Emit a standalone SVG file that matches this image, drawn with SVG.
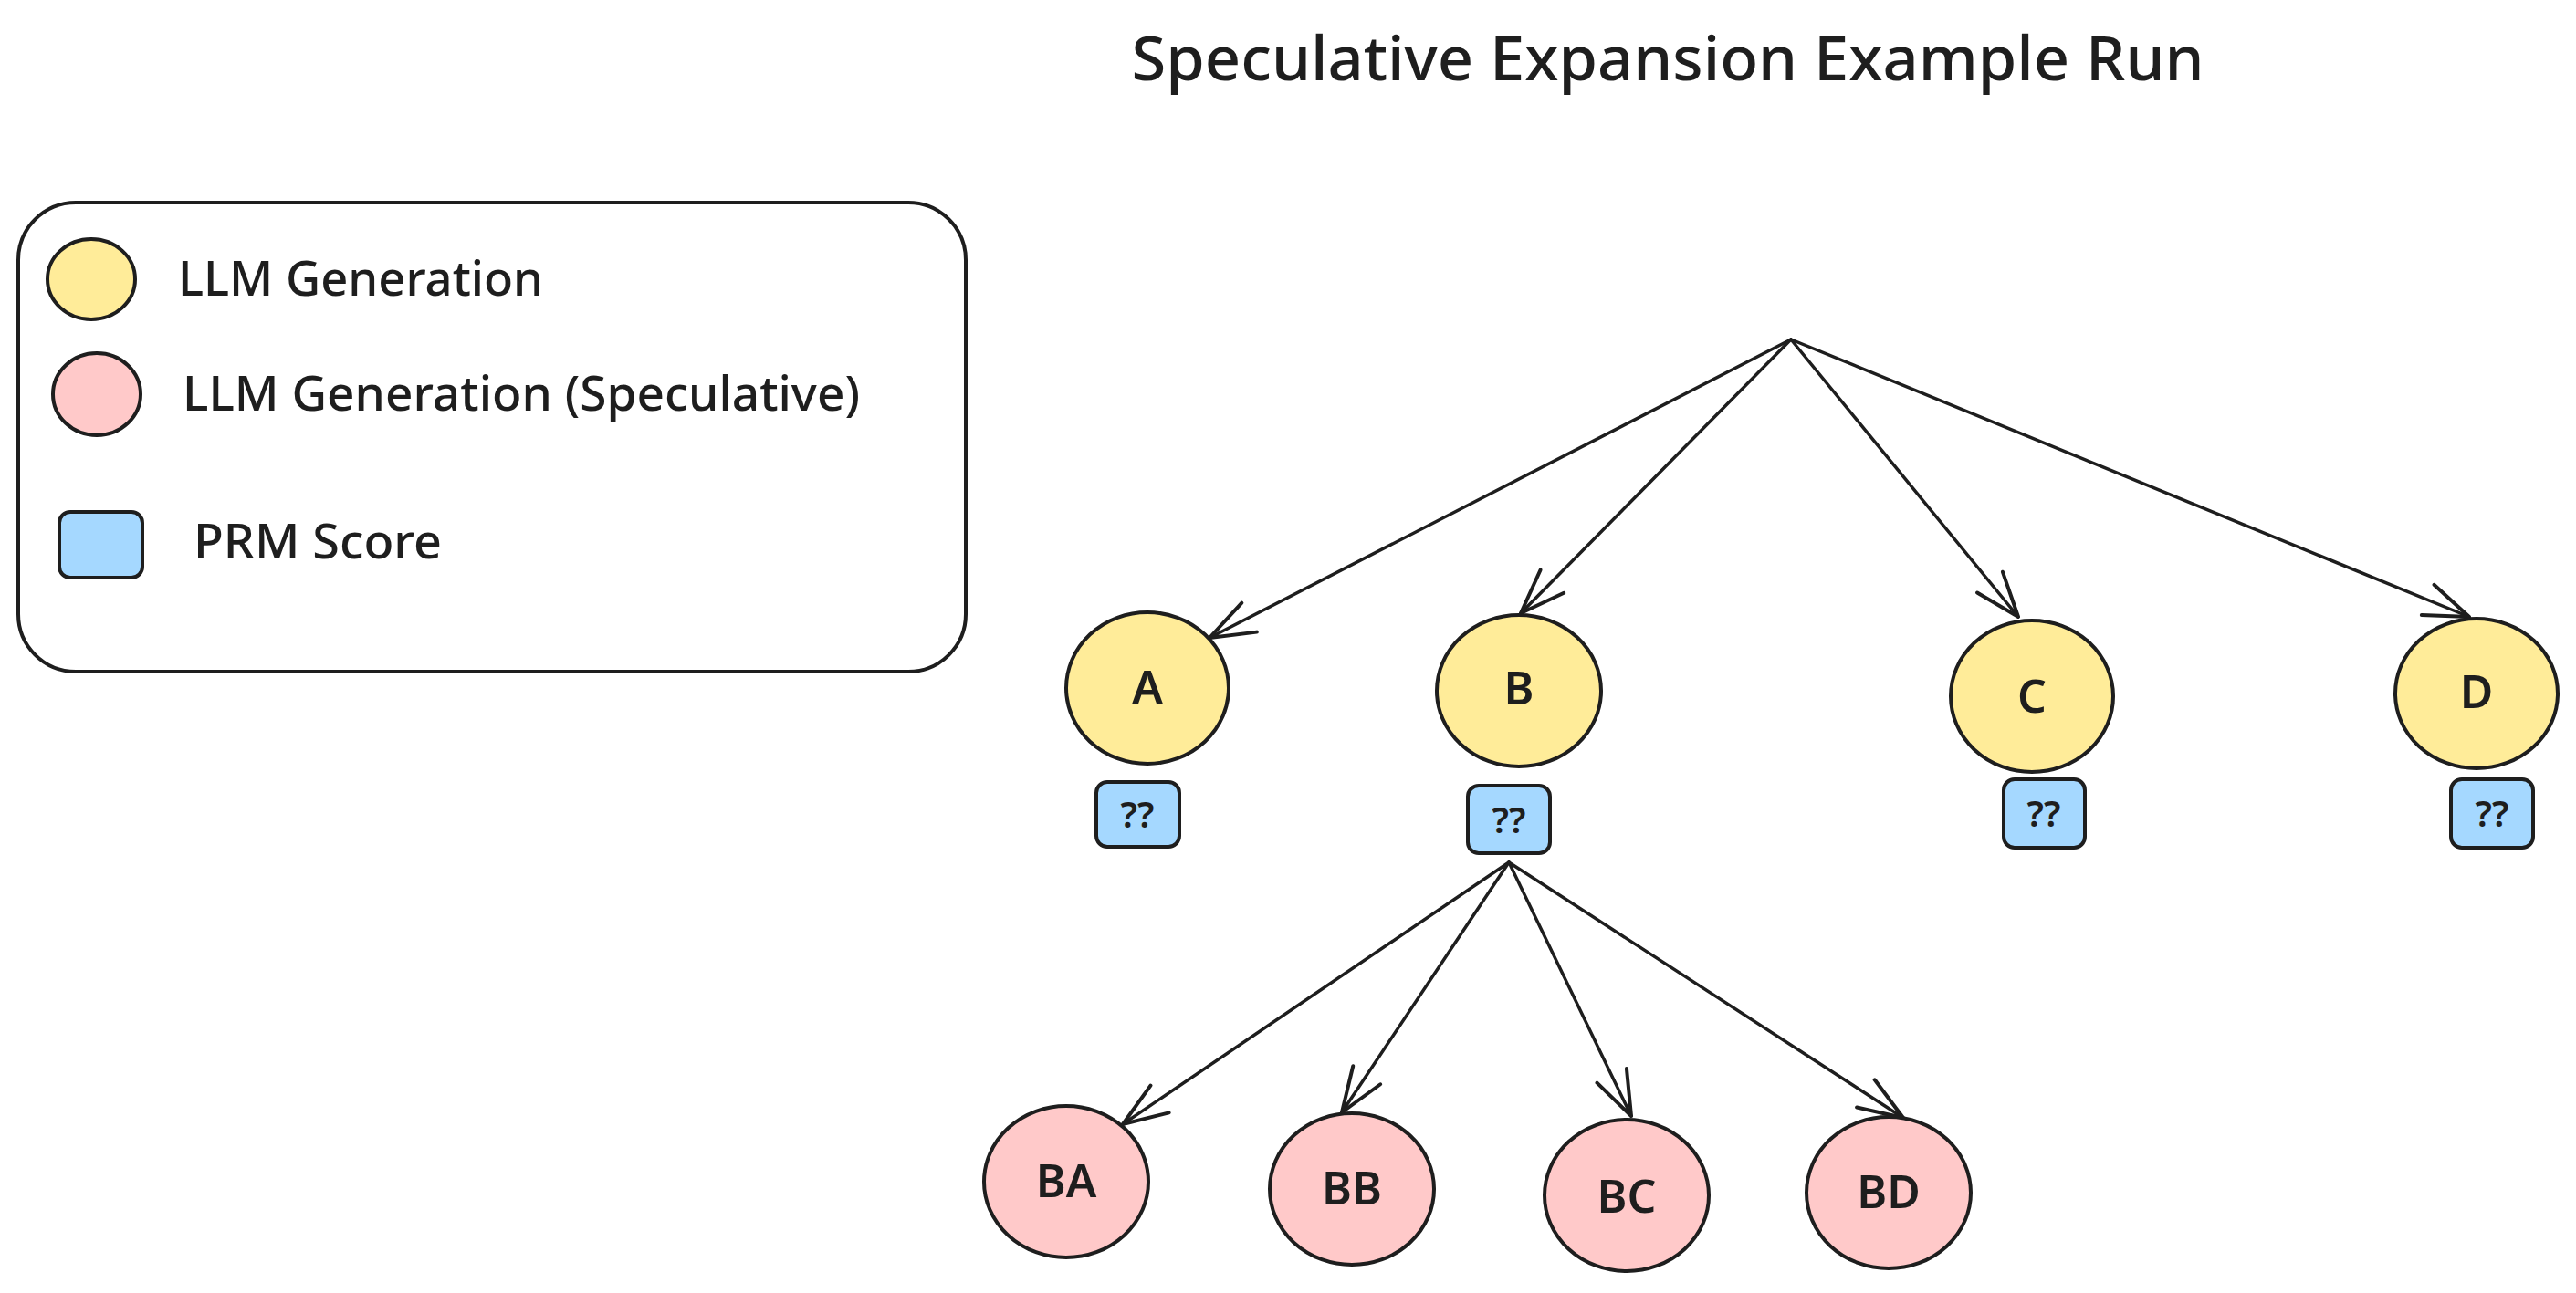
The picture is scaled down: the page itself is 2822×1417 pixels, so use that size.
<svg xmlns="http://www.w3.org/2000/svg" width="2822" height="1417" viewBox="0 0 2822 1417">
<style>
.bg{fill:#ffffff}
.shape{stroke:#1e1e1e;stroke-width:4}
.gen{fill:#ffec99}
.spec{fill:#ffc9c9}
.prm{fill:#a5d8ff}
.legend{fill:#ffffff;stroke:#1e1e1e;stroke-width:4}
.ui{font-family:"Noto Sans","Open Sans",sans-serif;fill:#1e1e1e;font-weight:500}
.lbl{font-family:"Noto Sans","Liberation Sans",sans-serif;fill:#1e1e1e;font-weight:600;text-anchor:middle;dominant-baseline:central}
.edge{stroke:#1e1e1e;stroke-width:3.5;fill:none;stroke-linecap:round;marker-end:url(#arr)}
</style>
<defs>
<marker id="arr" markerUnits="userSpaceOnUse" viewBox="-60 -30 70 60" refX="0" refY="0" markerWidth="70" markerHeight="60" orient="auto" overflow="visible">
<path d="M-49 -18 L0 0 L-49 18" fill="none" stroke="#1e1e1e" stroke-width="4" stroke-linecap="round" stroke-linejoin="round"/>
</marker>
</defs>
<rect class="bg" x="0" y="0" width="2822" height="1417"/>
<text class="ui" x="1827" y="88" font-size="68" text-anchor="middle" textLength="1175" lengthAdjust="spacingAndGlyphs">Speculative Expansion Example Run</text>
<g id="legend">
<rect class="legend" x="20" y="222" width="1038" height="514" rx="63" ry="63"/>
<ellipse class="shape gen" cx="100" cy="306" rx="48" ry="44"/>
<text class="ui" x="195" y="324" font-size="53" textLength="400" lengthAdjust="spacingAndGlyphs">LLM Generation</text>
<ellipse class="shape spec" cx="106" cy="432" rx="48" ry="45"/>
<text class="ui" x="200" y="450" font-size="53" textLength="742" lengthAdjust="spacingAndGlyphs">LLM Generation (Speculative)</text>
<rect class="shape prm" x="65" y="561" width="91" height="72" rx="12" ry="12"/>
<text class="ui" x="212" y="612" font-size="53" textLength="272" lengthAdjust="spacingAndGlyphs">PRM Score</text>
</g>
<g id="connectors">
<line class="edge" x1="1962" y1="372" x2="1325" y2="699"/>
<line class="edge" x1="1962" y1="372" x2="1666" y2="672"/>
<line class="edge" x1="1962" y1="372" x2="2211" y2="676"/>
<line class="edge" x1="1962" y1="372" x2="2705" y2="676"/>
<line class="edge" x1="1653" y1="945" x2="1230" y2="1232"/>
<line class="edge" x1="1653" y1="945" x2="1470" y2="1219"/>
<line class="edge" x1="1653" y1="945" x2="1787" y2="1223"/>
<line class="edge" x1="1653" y1="945" x2="2085" y2="1225"/>
</g>
<g id="node-A">
<ellipse class="shape gen" cx="1257" cy="754" rx="89" ry="83"/>
<text class="lbl" x="1257" y="752" font-size="50">A</text>
</g>
<g id="score-A">
<rect class="shape prm" x="1201" y="857" width="91" height="71" rx="12" ry="12"/>
<text class="lbl" x="1246" y="891" font-size="40">??</text>
</g>
<g id="node-B">
<ellipse class="shape gen" cx="1664" cy="757" rx="90" ry="83"/>
<text class="lbl" x="1664" y="753" font-size="50">B</text>
</g>
<g id="score-B">
<rect class="shape prm" x="1608" y="861" width="90" height="74" rx="12" ry="12"/>
<text class="lbl" x="1653" y="897" font-size="40">??</text>
</g>
<g id="node-C">
<ellipse class="shape gen" cx="2226" cy="763" rx="89" ry="83"/>
<text class="lbl" x="2226" y="762" font-size="50">C</text>
</g>
<g id="score-C">
<rect class="shape prm" x="2195" y="854" width="89" height="75" rx="12" ry="12"/>
<text class="lbl" x="2239" y="890" font-size="40">??</text>
</g>
<g id="node-D">
<ellipse class="shape gen" cx="2713" cy="760" rx="89" ry="82"/>
<text class="lbl" x="2713" y="757" font-size="50">D</text>
</g>
<g id="score-D">
<rect class="shape prm" x="2685" y="854" width="90" height="75" rx="12" ry="12"/>
<text class="lbl" x="2730" y="890" font-size="40">??</text>
</g>
<g id="node-BA">
<ellipse class="shape spec" cx="1168" cy="1295" rx="90" ry="83"/>
<text class="lbl" x="1168" y="1293" font-size="50">BA</text>
</g>
<g id="node-BB">
<ellipse class="shape spec" cx="1481" cy="1303" rx="90" ry="83"/>
<text class="lbl" x="1481" y="1301" font-size="50">BB</text>
</g>
<g id="node-BC">
<ellipse class="shape spec" cx="1782" cy="1310" rx="90" ry="83"/>
<text class="lbl" x="1782" y="1310" font-size="50">BC</text>
</g>
<g id="node-BD">
<ellipse class="shape spec" cx="2069" cy="1307" rx="90" ry="83"/>
<text class="lbl" x="2069" y="1305" font-size="50">BD</text>
</g>
</svg>
